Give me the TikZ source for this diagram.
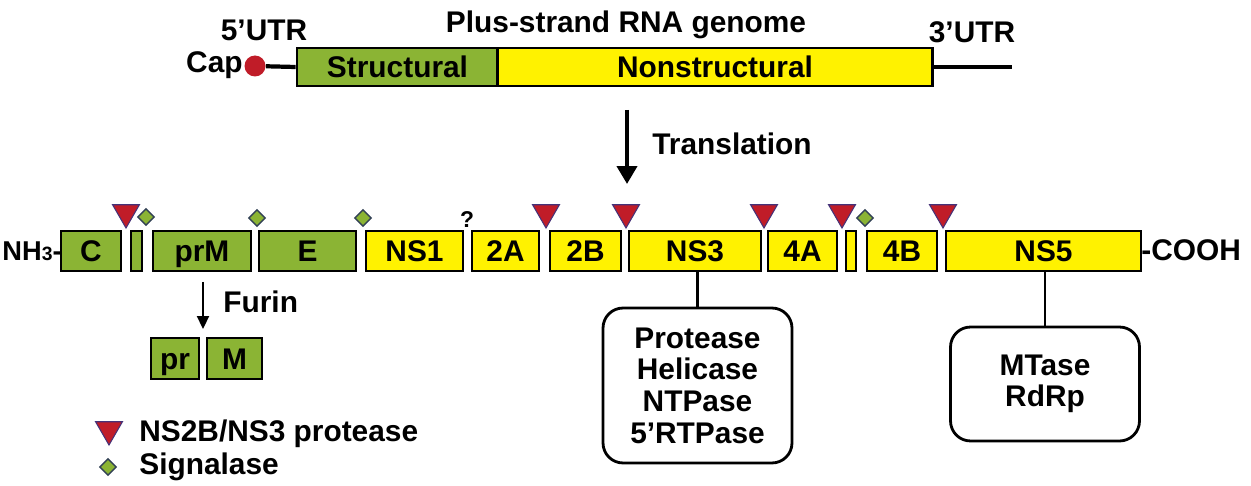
\documentclass[tikz,border=0pt]{standalone}
\usepackage{fontspec}
\setmainfont{Liberation Sans}
\usetikzlibrary{arrows.meta,shapes.geometric}
\definecolor{sgreen}{RGB}{139,180,52}
\definecolor{nsyellow}{RGB}{255,242,0}
\definecolor{cutred}{RGB}{192,28,40}
\definecolor{cutrim}{RGB}{70,50,120}
\definecolor{sigrim}{RGB}{50,65,85}
\newcommand{\lblfont}{\fontsize{17}{18}\selectfont\bfseries}

\begin{document}
\begin{tikzpicture}[x=0.02cm,y=-0.02cm,
    seg/.style={draw=black,line width=1.6pt,inner sep=0pt,minimum height=0.8cm,
        text height=12.2pt,text depth=0pt,font=\lblfont},
    lbl/.style={inner sep=0pt,font=\lblfont},
    cut/.style={regular polygon,regular polygon sides=3,shape border rotate=180,
        minimum size=0.62cm,inner sep=0pt,fill=cutred,draw=cutrim,line width=0.6pt},
    sig/.style={diamond,minimum size=0.34cm,inner sep=0pt,fill=sgreen,draw=sigrim,line width=0.8pt},
    callout/.style={draw,line width=1.6pt,rounded corners=0.4cm,minimum width=3.78cm,
        align=center,inner sep=0pt,font=\lblfont}]
    \useasboundingbox (0,0) rectangle (1251,486);
    % genome
    \node[seg,fill=sgreen,minimum height=0.76cm,minimum width=4.02cm] (str) at (397.5,67) {Structural};
    \node[seg,fill=nsyellow,minimum height=0.76cm,minimum width=8.7cm] (nonstr) at (715,67) {Nonstructural};
    \node[circle,fill=cutred,minimum size=0.42cm,inner sep=0pt] (cap) at (255,66) {};
    \coordinate (end3) at (1012,67);
    \draw [line width=2.4pt] (cap) -- (str.west);
    \draw [line width=2.4pt] (nonstr.east) -- (end3);
    \node[lbl,anchor=base east] (captxt) at (243,73) {Cap};
    \node[lbl,anchor=base] (utr5) at (264,41) {5’UTR};
    \node[lbl,anchor=base] (utr3) at (972,43) {3’UTR};
    \node[lbl,anchor=base] (title) at (626,33) {Plus-strand RNA genome};
    % translation
    \coordinate (tr1) at (627,110);
    \coordinate (tr2) at (627,184);
    \draw [line width=2.4pt,-{Triangle[width=0.4cm,length=0.36cm]}] (tr1) -- (tr2);
    \node[lbl,anchor=base west] (trtxt) at (652,155) {Translation};
    % polyprotein
    \node[seg,fill=sgreen,minimum width=1.2cm] (C) at (91,251) {C};
    \node[seg,fill=sgreen,minimum width=0.22cm] (anc) at (136.5,251) {};
    \node[seg,fill=sgreen,minimum width=1.96cm] (prM) at (202,251) {prM};
    \node[seg,fill=sgreen,minimum width=1.94cm] (E) at (307.5,251) {E};
    \node[seg,fill=nsyellow,minimum width=1.94cm] (NS1) at (414.5,251) {NS1};
    \node[seg,fill=nsyellow,minimum width=1.34cm] (NS2A) at (505.5,251) {2A};
    \node[seg,fill=nsyellow,minimum width=1.42cm] (NS2B) at (585.5,251) {2B};
    \node[seg,fill=nsyellow,minimum width=2.64cm] (NS3) at (695,251) {NS3};
    \node[seg,fill=nsyellow,minimum width=1.38cm] (NS4A) at (802.5,251) {4A};
    \node[seg,fill=nsyellow,minimum width=0.2cm] (k2) at (851,251) {};
    \node[seg,fill=nsyellow,minimum width=1.4cm] (NS4B) at (902,251) {4B};
    \node[seg,fill=nsyellow,minimum width=3.9cm] (NS5) at (1043.5,251) {NS5};
    \node[inner sep=0pt,font=\fontsize{15.5}{16}\selectfont\bfseries,anchor=base east] (nterm) at (62,261) {NH{\fontsize{11}{12}\selectfont 3}-};
    \node[lbl,anchor=base west] (cterm) at (1141,261) {-COOH};
    % cleavage sites
    \node[cut] (c1) at (126,212.5) {};
    \node[cut] (c2) at (546,212.5) {};
    \node[cut] (c3) at (626,212.5) {};
    \node[cut] (c4) at (764,212.5) {};
    \node[cut] (c5) at (842,212.5) {};
    \node[cut] (c6) at (943,212.5) {};
    \node[sig] (s1) at (146,217) {};
    \node[sig] (s2) at (257,218) {};
    \node[sig] (s3) at (363,218) {};
    \node[sig] (s4) at (865,218) {};
    \node[inner sep=0pt,font=\fontsize{13}{14}\selectfont\bfseries] (unk) at (467,220) {?};
    % furin
    \coordinate (fu1) at (203,282);
    \coordinate (fu2) at (203,329);
    \draw [line width=1.3pt,-{Triangle[width=0.24cm,length=0.26cm]}] (fu1) -- (fu2);
    \node[lbl,anchor=base west] (furin) at (223,313) {Furin};
    \node[seg,fill=sgreen,minimum width=0.96cm,minimum height=0.82cm] (pr) at (175,358.5) {pr};
    \node[seg,fill=sgreen,minimum width=1.1cm,minimum height=0.82cm] (M) at (234.5,358.5) {M};
    % functions
    \node[callout,minimum height=3.1cm] (prot) at (697.5,385.5) {Protease\\Helicase\\NTPase\\5’RTPase};
    \node[callout,minimum height=2.28cm] (mtase) at (1045,384) {MTase\\RdRp};
    \draw [line width=1.6pt] (prot.north) -- (prot.north |- NS3.south);
    \draw [line width=1.6pt] (mtase.north) -- (mtase.north |- NS5.south);
    % legend
    \node[cut] (lcut) at (109,429.5) {};
    \node[sig,minimum size=0.34cm] (lsig) at (108,467) {};
    \node[lbl,anchor=base west] (lcuttxt) at (139,441) {NS2B/NS3 protease};
    \node[lbl,anchor=base west] (lsigtxt) at (139,474) {Signalase};
\end{tikzpicture}
\end{document}
